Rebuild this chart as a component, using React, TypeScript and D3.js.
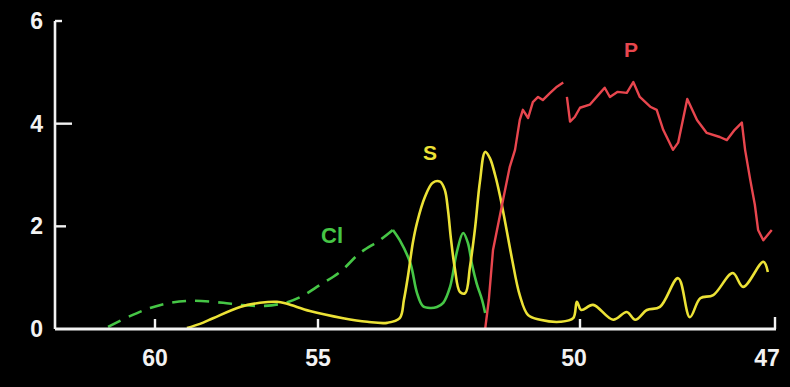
import React from "react";
import * as d3 from "d3";

// Tick labels
const xTicks = [60, 55, 50, 47];
const yTicks = [0, 2, 4, 6];

// Cl (dashed part, then solid part)
const clDashX = [61.44, 60.77, 60.15, 59.54, 58.83, 57.91, 57.39, 56.63, 56.01, 55.55, 54.96, 54.58, 54.2, 53.82, 53.57];
const clDashY = [0.04, 0.25, 0.41, 0.51, 0.55, 0.51, 0.47, 0.45, 0.51, 0.62, 0.86, 1.11, 1.48, 1.73, 1.93];
const clSolidX = [53.57, 53.44, 53.24, 53.11, 53.0, 52.86, 52.73, 52.61, 52.48, 52.35, 52.23, 52.14, 52.06, 51.97, 51.87, 51.81];
const clSolidY = [1.93, 1.73, 1.29, 0.7, 0.45, 0.41, 0.43, 0.51, 0.82, 1.5, 1.87, 1.68, 1.25, 0.88, 0.57, 0.31];

// S
const sX = [59.02, 58.62, 58.22, 57.39, 56.78, 56.26, 55.95, 55.25, 54.52, 54.06, 53.68, 53.44, 53.36, 53.28, 53.19, 53.11, 52.96, 52.81, 52.67, 52.58, 52.52, 52.46, 52.39, 52.29, 52.19, 52.1, 52.0, 51.91, 51.81, 51.72, 51.62, 51.53, 51.43, 51.3, 51.15, 50.99, 50.76, 50.38, 50.13, 50.06, 49.98, 49.8, 49.49, 49.28, 49.15, 48.97, 48.77, 48.49, 48.31, 48.15, 47.95, 47.65, 47.49, 47.18, 47.11];
const sY = [0.02, 0.1, 0.21, 0.43, 0.51, 0.53, 0.49, 0.35, 0.21, 0.14, 0.12, 0.21, 0.57, 1.05, 1.68, 2.07, 2.57, 2.85, 2.87, 2.71, 2.32, 1.73, 1.19, 0.72, 0.7, 1.21, 1.99, 2.87, 3.45, 3.33, 3.0, 2.61, 2.09, 1.38, 0.66, 0.27, 0.18, 0.14, 0.21, 0.53, 0.37, 0.47, 0.18, 0.33, 0.18, 0.37, 0.43, 0.99, 0.23, 0.6, 0.66, 1.09, 0.82, 1.31, 1.11];

// P (null = break in the trace)
const pX = [51.81, 51.74, 51.66, 51.47, 51.34, 51.24, 51.15, 51.09, 50.99, 50.9, 50.8, 50.71, 50.57, 50.44, 50.32, 50.28, 50.25, 50.19, 50.1, 50.0, 49.85, 49.69, 49.62, 49.54, 49.42, 49.28, 49.18, 49.08, 48.92, 48.82, 48.72, 48.57, 48.49, 48.35, 48.2, 48.05, 47.85, 47.74, 47.62, 47.51, 47.46, 47.38, 47.31, 47.26, 47.18, 47.05];
const pY: (number | null)[] = [0, 0.57, 1.54, 2.51, 3.16, 3.49, 4.07, 4.27, 4.11, 4.42, 4.52, 4.46, 4.6, 4.72, 4.8, null, 4.52, 4.04, 4.13, 4.31, 4.37, 4.6, 4.7, 4.52, 4.62, 4.6, 4.81, 4.52, 4.33, 4.27, 3.88, 3.49, 3.63, 4.48, 4.07, 3.82, 3.74, 3.68, 3.88, 4.02, 3.49, 2.9, 2.42, 1.93, 1.73, 1.93];

const W = 790;
const H = 387;

const x = d3.scaleLinear().domain([60, 55, 50, 47]).range([155, 318, 580, 775]);
const y = d3.scaleLinear().domain([0, 6]).range([329, 21]);

const GREEN = "#46c646";
const YELLOW = "#ece236";
const RED = "#e8464e";
const AXIS = "#f2f2f2";

function pts(xs: number[], ys: (number | null)[]) {
  return xs.map((v, i) => [v, ys[i]] as [number, number | null]);
}

const line = d3
  .line<[number, number | null]>()
  .defined((d) => d[1] !== null)
  .x((d) => x(d[0]))
  .y((d) => y(d[1] as number))
  .curve(d3.curveLinear);

const smooth = d3
  .line<[number, number | null]>()
  .defined((d) => d[1] !== null)
  .x((d) => x(d[0]))
  .y((d) => y(d[1] as number))
  .curve(d3.curveCatmullRom.alpha(0.5));

export default function App() {
  const axisLeft = 55;
  const axisRight = x(47) + 1;
  const y0 = y(0);
  const font = "'Liberation Sans', Arial, sans-serif";
  const yTickLen = [0, 11, 17, 7];
  const xLabelDx = [0, 0, -6, -8];
  return (
    <svg
      width={W}
      height={H}
      style={{ position: "fixed", left: 0, top: 0, background: "#000" }}
    >
      <rect x={0} y={0} width={W} height={H} fill="#000" />
      {/* traces */}
      <path d={smooth(pts(clDashX, clDashY)) || ""} fill="none" stroke={GREEN} strokeWidth={2.6} strokeDasharray="14 9" />
      <path d={smooth(pts(clSolidX, clSolidY)) || ""} fill="none" stroke={GREEN} strokeWidth={2.6} />
      <path d={smooth(pts(sX, sY)) || ""} fill="none" stroke={YELLOW} strokeWidth={2.6} strokeLinejoin="round" />
      <path d={line(pts(pX, pY)) || ""} fill="none" stroke={RED} strokeWidth={2.4} strokeLinejoin="round" />

      {/* axes */}
      <line x1={axisLeft} y1={y(6)} x2={axisLeft} y2={y0} stroke={AXIS} strokeWidth={2.6} />
      <line x1={axisLeft} y1={y0} x2={axisRight} y2={y0} stroke={AXIS} strokeWidth={2.8} />
      {yTicks.map((t, i) => (
        <g key={"yt" + t}>
          {yTickLen[i] > 0 && (
            <line x1={axisLeft} x2={axisLeft + yTickLen[i]} y1={y(t)} y2={y(t)} stroke={AXIS} strokeWidth={2.4} />
          )}
          <text
            x={43}
            y={y(t)}
            textAnchor="end"
            dominantBaseline="central"
            fill={AXIS}
            fontFamily={font}
            fontWeight="bold"
            fontSize={23}
          >
            {t}
          </text>
        </g>
      ))}
      {xTicks.map((t, i) => (
        <g key={"xt" + t}>
          <line x1={x(t)} x2={x(t)} y1={y0} y2={y0 - (i === 3 ? 12 : 10)} stroke={AXIS} strokeWidth={2.4} />
          <text
            x={x(t) + xLabelDx[i]}
            y={366}
            textAnchor="middle"
            fill={AXIS}
            fontFamily={font}
            fontWeight="bold"
            fontSize={23}
          >
            {t}
          </text>
        </g>
      ))}

      {/* series labels */}
      <text x={332} y={243} textAnchor="middle" fill={GREEN} fontFamily={font} fontWeight="bold" fontSize={22}>
        Cl
      </text>
      <text x={430} y={160} textAnchor="middle" fill={YELLOW} fontFamily={font} fontWeight="bold" fontSize={21}>
        S
      </text>
      <text x={631} y={57} textAnchor="middle" fill={RED} fontFamily={font} fontWeight="bold" fontSize={21}>
        P
      </text>
    </svg>
  );
}
